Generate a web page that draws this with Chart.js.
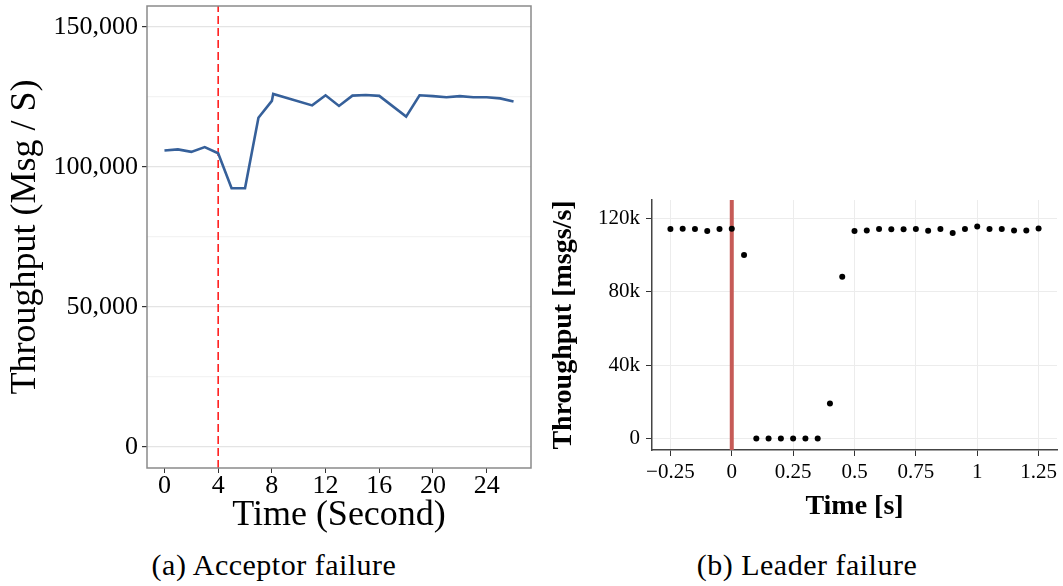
<!DOCTYPE html>
<html>
<head>
<meta charset="utf-8">
<script src="https://cdn.jsdelivr.net/npm/chart.js@4.4.0/dist/chart.umd.min.js"></script>
<style>
  body { margin:0; background:#fff; width:1063px; height:586px; overflow:hidden; position:relative; font-family:'Liberation Serif', 'DejaVu Serif', serif; }
  .box { position:absolute; }
  .caption { position:absolute; top:550px; font-size:30px; line-height:30px; letter-spacing:0.5px; color:#000; transform:translateX(-50%); white-space:nowrap; }
</style>
</head>
<body>
<div class="box" style="left:0;top:0;width:545px;height:545px"><canvas id="chart-a"></canvas></div>
<div class="box" style="left:540px;top:190px;width:523px;height:340px"><canvas id="chart-b"></canvas></div>
<div class="caption" style="left:274px">(a) Acceptor failure</div>
<div class="caption" style="left:807px">(b) Leader failure</div>

<script>
/* ---------- data ---------- */
// (a) acceptor failure: throughput over time, seconds
const timeA       = [0, 1, 2, 3, 4, 5, 6, 7, 8, 8.1, 11, 12, 13, 14, 15, 16, 18, 19, 20, 21, 22, 23, 24, 25, 26];
const throughputA = [105900, 106300, 105400, 107100, 104900, 92400, 92400, 117600, 123600, 126100, 122000, 125600,
                     121800, 125500, 125700, 125400, 118000, 125600, 125300, 124900, 125300, 124900, 124900, 124500, 123400];
const failureA    = 4;
const xTicksA     = [0, 4, 8, 12, 16, 20, 24];
const yTicksA     = [0, 50000, 100000, 150000];

// (b) leader failure: throughput per 50 ms bucket
const timeB       = [-0.25, -0.2, -0.15, -0.1, -0.05, 0, 0.05, 0.1, 0.15, 0.2, 0.25, 0.3, 0.35, 0.4, 0.45,
                     0.5, 0.55, 0.6, 0.65, 0.7, 0.75, 0.8, 0.85, 0.9, 0.95, 1, 1.05, 1.1, 1.15, 1.2, 1.25];
const throughputB = [114200, 114400, 114200, 113100, 114200, 114400, 100100, 0, 0, 0, 0, 0, 0, 19100, 88200,
                     113100, 113400, 114200, 114000, 114000, 114200, 113200, 114200, 112000, 114200, 115600,
                     114200, 114200, 113400, 113400, 114500];
const failureB    = 0;
const xTicksB     = [-0.25, 0, 0.25, 0.5, 0.75, 1, 1.25];
const yTicksB     = [0, 40000, 80000, 120000];

/* ---------- common ---------- */
const SERIF = "'Liberation Serif', 'DejaVu Serif', serif";
Chart.defaults.font.family = SERIF;
Chart.defaults.color = '#000';
Chart.defaults.animation = false;

const fmtComma = v => String(v).replace(/\B(?=(\d{3})+(?!\d))/g, ',');
const fmtTime  = v => v === 0 ? '0' : (v < 0 ? '\u2212' : '') + String(Math.abs(v));
const fmtK     = v => v === 0 ? '0' : (v / 1000) + 'k';

// fixed axis sizes, no extra room for half labels
const fixY = w => s => { s.width = w; s.paddingTop = 0; s.paddingBottom = 0; };
const fixX = h => s => { s.height = h; s.paddingLeft = 0; s.paddingRight = 0; };

// gray frame around panel (a)
const panelBorder = {
  id: 'panelBorder',
  afterDraw(chart) {
    const { ctx, chartArea: a } = chart;
    ctx.save();
    ctx.strokeStyle = '#8a8a8a';
    ctx.lineWidth = 1.5;
    ctx.strokeRect(a.left, a.top, a.right - a.left, a.bottom - a.top);
    ctx.restore();
  }
};

/* ---------- chart (a) ---------- */
const yMinA = -7500, yMaxA = 157500;
new Chart(document.getElementById('chart-a'), {
  type: 'line',
  data: {
    datasets: [
      { data: timeA.map((t, i) => ({ x: t, y: throughputA[i] })),
        borderColor: '#36609a', borderWidth: 2.6, pointRadius: 0, tension: 0 },
      { data: [{ x: failureA, y: yMinA }, { x: failureA, y: yMaxA }],
        borderColor: '#ff0000', borderWidth: 1.4, borderDash: [8, 4], pointRadius: 0 }
    ]
  },
  options: {
    responsive: true, maintainAspectRatio: false,
    layout: { padding: { top: 6, right: 14, left: 0, bottom: 0 } },
    plugins: { legend: { display: false }, tooltip: { enabled: false } },
    scales: {
      x: {
        type: 'linear', min: -1.3, max: 27.3,
        afterBuildTicks: s => { s.ticks = xTicksA.map(v => ({ value: v })); },
        afterFit: fixX(77),
        ticks: { font: { size: 26, lineHeight: 1 }, padding: 0, maxRotation: 0 },
        grid: { drawOnChartArea: false, tickColor: '#333', tickLength: 5 },
        border: { display: false },
        title: { display: true, text: 'Time (Second)', font: { size: 36 }, padding: { top: 0, bottom: 8 } }
      },
      y: {
        min: yMinA, max: yMaxA,
        afterBuildTicks: s => {
          const t = [];
          for (let i = 0; i < yTicksA.length; i++) {
            t.push({ value: yTicksA[i] });
            if (i < yTicksA.length - 1) t.push({ value: (yTicksA[i] + yTicksA[i + 1]) / 2, minor: true });
          }
          s.ticks = t;
        },
        afterFit: fixY(147),
        ticks: { font: { size: 26 }, padding: 4, callback: (v, i, t) => t[i].minor ? '' : fmtComma(v) },
        grid: {
          color: c => c.tick && c.tick.minor ? '#f3f3f3' : '#e4e4e4',
          tickColor: c => c.tick && c.tick.minor ? 'rgba(0,0,0,0)' : '#333',
          tickLength: 5, lineWidth: 1.2
        },
        border: { display: false },
        title: { display: true, text: 'Throughput (Msg / S)', font: { size: 36 }, padding: { top: 4, bottom: 0 } }
      }
    }
  },
  plugins: [panelBorder]
});

/* ---------- chart (b) ---------- */
const yMinB = -6200, yMaxB = 130000;
new Chart(document.getElementById('chart-b'), {
  type: 'scatter',
  data: {
    datasets: [
      { data: timeB.map((t, i) => ({ x: t, y: throughputB[i] })),
        backgroundColor: '#000', borderWidth: 0, pointRadius: 3 },
      { type: 'line', data: [{ x: failureB, y: yMinB }, { x: failureB, y: yMaxB }],
        borderColor: '#c65b57', borderWidth: 4, pointRadius: 0 }
    ]
  },
  options: {
    responsive: true, maintainAspectRatio: false,
    layout: { padding: { top: 10, right: 6, left: 0, bottom: 0 } },
    plugins: { legend: { display: false }, tooltip: { enabled: false } },
    scales: {
      x: {
        type: 'linear', min: -0.325, max: 1.325,
        afterBuildTicks: s => { s.ticks = xTicksB.map(v => ({ value: v })); },
        afterFit: fixX(80),
        ticks: { font: { size: 21, lineHeight: 1 }, padding: 6, maxRotation: 0, callback: v => fmtTime(v) },
        grid: { color: '#ececec', tickColor: '#333', tickLength: 6 },
        border: { color: '#444', width: 1.5 },
        title: { display: true, text: 'Time [s]', font: { size: 28, weight: 'bold' }, padding: { top: 0, bottom: 6 } }
      },
      y: {
        min: yMinB, max: yMaxB,
        afterBuildTicks: s => { s.ticks = yTicksB.map(v => ({ value: v })); },
        afterFit: fixY(112),
        ticks: { font: { size: 21 }, padding: 6, callback: v => fmtK(v) },
        grid: { color: '#ececec', tickColor: '#333', tickLength: 6 },
        border: { color: '#444', width: 1.5 },
        title: { display: true, text: 'Throughput [msgs/s]', font: { size: 28, weight: 'bold' }, padding: { top: 7, bottom: 0 } }
      }
    }
  }
});
</script>
</body>
</html>
